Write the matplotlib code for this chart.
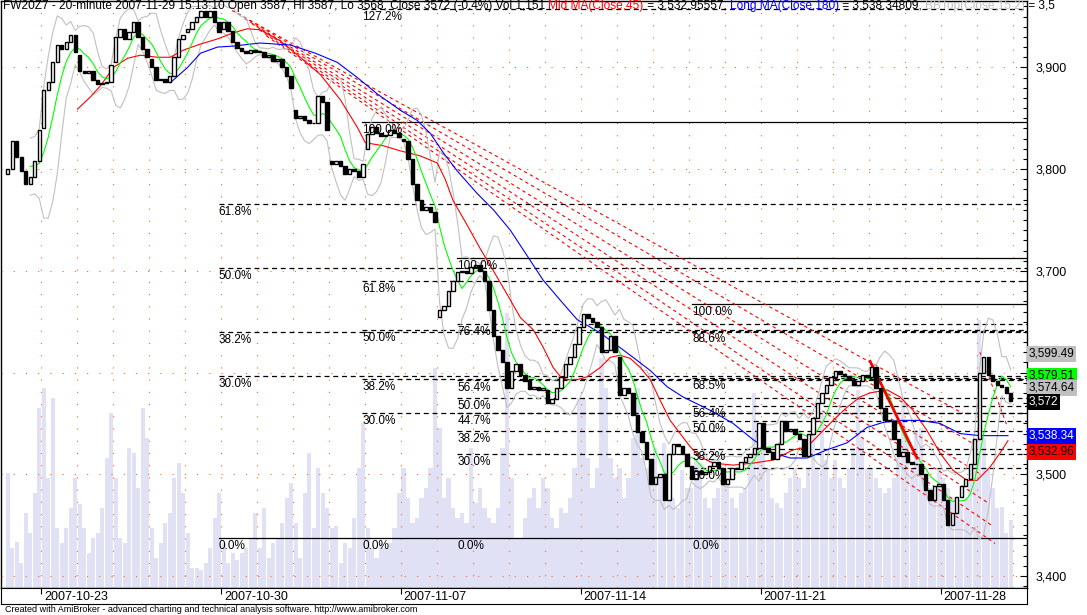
import numpy as np
import pandas as pd
import matplotlib
matplotlib.use("Agg")
import matplotlib.pyplot as plt
from matplotlib.ticker import MultipleLocator, FixedLocator

plt.rcParams['font.family'] = ['Liberation Sans', 'DejaVu Sans']

# ---- FW20Z7 20-minute bars, sampled 8 per session (10-22 .. 11-29) ----
closes = [
    [3800, 3828, 3812, 3798, 3785, 3792, 3808, 3838],
    [3878, 3886, 3905, 3922, 3918, 3925, 3932, 3915],
    [3896, 3895, 3896, 3888, 3884, 3885, 3886, 3902],
    [3930, 3938, 3928, 3935, 3945, 3930, 3918, 3910],
    [3900, 3888, 3889, 3886, 3892, 3910, 3928, 3932],
    [3938, 3945, 3950, 3955, 3950, 3955, 3945, 3935],
    [3945, 3936, 3925, 3919, 3916, 3914, 3917, 3915],
    [3915, 3910, 3912, 3906, 3908, 3900, 3892, 3880],
    [3850, 3852, 3848, 3845, 3845, 3872, 3866, 3838],
    [3805, 3808, 3803, 3795, 3800, 3798, 3792, 3805],
    [3835, 3841, 3836, 3833, 3834, 3838, 3836, 3832],
    [3828, 3810, 3785, 3770, 3760, 3763, 3758, 3748],
    [3662, 3665, 3680, 3690, 3699, 3700, 3698, 3704],
    [3706, 3700, 3690, 3662, 3636, 3622, 3610, 3585],
    [3602, 3608, 3598, 3592, 3584, 3586, 3583, 3585],
    [3570, 3574, 3585, 3596, 3608, 3615, 3628, 3645],
    [3658, 3654, 3650, 3645, 3620, 3622, 3636, 3620],
    [3578, 3585, 3580, 3558, 3542, 3532, 3515, 3490],
    [3497, 3500, 3475, 3520, 3530, 3528, 3520, 3508],
    [3495, 3503, 3500, 3502, 3508, 3512, 3506, 3490],
    [3495, 3506, 3505, 3512, 3517, 3520, 3526, 3550],
    [3526, 3522, 3515, 3530, 3552, 3543, 3545, 3540],
    [3535, 3518, 3540, 3555, 3570, 3580, 3588, 3596],
    [3602, 3599, 3597, 3593, 3588, 3592, 3598, 3596],
    [3605, 3585, 3565, 3553, 3552, 3535, 3518, 3522],
    [3512, 3510, 3510, 3500, 3485, 3475, 3488, 3490],
    [3475, 3450, 3462, 3478, 3488, 3495, 3510, 3535],
    [3600, 3615, 3598, 3592, 3588, 3586, 3580, 3572],
]
day_open = [3795, 3840, 3912, 3905, 3908, 3935, 3938, 3916, 3858, 3808,
            3820, 3830, 3655, 3704, 3585, 3583, 3645, 3615, 3490, 3508,
            3490, 3550, 3540, 3596, 3596, 3522, 3490, 3535]
volume = [
    [115, 40, 46, 25, 75, 55, 95, 180], [200, 110, 190, 60, 45, 60, 80, 110],
    [84, 60, 35, 50, 55, 80, 130, 175], [110, 50, 45, 140, 135, 100, 180, 150],
    [60, 30, 45, 65, 75, 110, 125, 95], [55, 20, 20, 18, 25, 40, 70, 95],
    [45, 25, 35, 28, 35, 40, 50, 75], [40, 80, 30, 45, 50, 65, 90, 105],
    [65, 30, 95, 135, 60, 120, 95, 80], [60, 62, 25, 45, 40, 70, 120, 165],
    [60, 40, 30, 45, 40, 45, 60, 95], [120, 90, 65, 70, 90, 100, 120, 220],
    [160, 90, 110, 80, 70, 75, 65, 140], [85, 100, 80, 70, 65, 80, 140, 275],
    [110, 50, 50, 70, 90, 100, 80, 110], [100, 70, 60, 80, 75, 90, 120, 190],
    [190, 130, 100, 120, 230, 200, 130, 110], [120, 90, 110, 150, 200, 130, 120, 110],
    [140, 110, 145, 100, 90, 80, 118, 100], [100, 130, 125, 90, 80, 90, 100, 110],
    [110, 90, 80, 95, 100, 130, 195, 150], [150, 120, 90, 85, 80, 95, 110, 120],
    [110, 100, 120, 158, 120, 175, 128, 110], [128, 110, 100, 120, 140, 198, 150, 120],
    [120, 110, 100, 95, 100, 110, 130, 188], [150, 120, 158, 160, 110, 100, 90, 120],
    [110, 100, 90, 80, 85, 90, 110, 150], [268, 150, 120, 100, 80, 81, 55, 68],
]

# Mid MA(Close,45) and Long MA(Close,180) (session units)
mid_t = [2.00, 2.36, 2.64, 3.00, 3.39, 3.75, 4.22, 4.58, 4.94, 5.42, 5.89, 6.33, 6.72,
         7.08, 7.64, 8.19, 8.75, 9.31, 9.78, 10.00, 10.50, 10.97, 11.53, 12.00, 12.22,
         12.44, 12.83, 13.19, 13.56, 13.89, 14.31, 14.67, 14.94, 15.22, 15.42, 15.61,
         15.89, 16.17, 16.53, 16.81, 17.08, 17.36, 17.64, 17.92, 18.19, 18.47, 18.75,
         19.03, 19.31, 19.67, 20.22, 20.78, 21.33, 21.89, 22.28, 22.64, 23.00, 23.39,
         23.75, 24.03, 24.50, 24.86, 25.22, 25.61, 25.97, 26.33, 26.72, 27.00, 27.36,
         27.64, 27.86]
mid_ma = [3859, 3871, 3882, 3900, 3909, 3912, 3910, 3910, 3917, 3923, 3928, 3934, 3938,
          3937, 3926, 3910, 3893, 3868, 3841, 3826, 3823, 3818, 3813, 3806, 3790,
          3769, 3745, 3722, 3700, 3680, 3654, 3642, 3625, 3605, 3596, 3593,
          3593, 3596, 3605, 3615, 3617, 3614, 3605, 3593, 3573, 3553, 3540,
          3527, 3517, 3511, 3509, 3511, 3514, 3524, 3527, 3540, 3553, 3566,
          3576, 3580, 3583, 3576, 3563, 3543, 3521, 3504, 3494, 3494, 3507,
          3521, 3533]
long_t = [4.58, 5.06, 5.42, 5.89, 6.33, 7.08, 7.92, 8.61, 9.22, 9.78, 10.33, 10.97,
          11.44, 11.81, 12.17, 12.56, 13.11, 13.56, 14.03, 14.94, 15.42, 15.89, 16.53,
          17.44, 17.92, 18.39, 18.83, 19.58, 20.22, 20.78, 21.33, 21.81, 22.28, 22.83,
          23.39, 23.94, 24.39, 24.86, 25.42, 25.97, 26.53, 27.08, 27.86]
long_ma = [3885, 3900, 3914, 3920, 3921, 3924, 3922, 3914, 3905, 3890, 3874, 3858,
           3848, 3835, 3816, 3798, 3776, 3760, 3740, 3691, 3671, 3652, 3639,
           3615, 3602, 3586, 3576, 3563, 3550, 3534, 3521, 3516, 3516, 3524,
           3531, 3546, 3551, 3553, 3553, 3550, 3540, 3538, 3538]

# Fibonacci retracements: start session, 100% price, 0% price, levels
fib_start = [5.92, 9.92, 12.56, 19.08]
fib_high = [3968.0, 3846.0, 3712.4, 3667.2]
fib_low = 3437.3
fib_levels = [[61.8, 50.0, 38.2, 30.0],
              [127.2, 61.8, 50.0, 38.2, 30.0],
              [76.4, 56.4, 50.0, 44.7, 38.2, 30.0],
              [88.6, 68.5, 56.4, 50.0, 38.2, 30.0]]

# red trend lines: start (session, price) -> end (session, price)
fan_t0 = [6.30, 6.45, 6.65, 6.85, 7.05, 7.25]
fan_p0 = [3956, 3953, 3948, 3943, 3937, 3931]
fan_t1 = [26.60, 26.90, 27.10, 27.30, 27.40, 27.50]
fan_p1 = [3560, 3530, 3500, 3472, 3450, 3432]
thick_line = ([24.03, 25.33], [3611, 3516])
short_line = ([27.08, 27.83], [3620, 3548])

week_days = [1, 6, 11, 16, 21, 26]
week_labels = ['2007-10-23', '2007-10-30', '2007-11-07', '2007-11-14',
               '2007-11-21', '2007-11-28']
price_ticks = [3400, 3500, 3600, 3700, 3800, 3900]

value_labels = ['3,599.49', '3,579.51', '3,574.64', '3,572', '3,538.34', '3,532.96']
value_bg = ['#c0c0c0', '#00ff00', '#c0c0c0', 'black', '#0000ff', '#ff0000']
value_fg = ['black', 'black', 'black', 'white', 'white', 'black']
value_ypx = [354, 376, 388, 402, 436, 452]

title_parts = [
    ("FW20Z7 - 20-minute 2007-11-29 15:13:10 Open 3587, Hi 3587, Lo 3568, "
     "Close 3572 (-0.4%) Vol 1,151 ", 'black'),
    ("Mid MA(Close,45)", '#ff0000'),
    (" = 3,532.95557, ", 'black'),
    ("Long MA(Close,180)", '#0000ff'),
    (" = 3,538.34809, ", 'black'),
    ("BBTop(Close,15,2)", '#c0c0c0'),
    (" = 3,5", 'black'),
]

# ---- layout ----
W, H = 1087, 615
fig = plt.figure(figsize=(W / 100, H / 100), dpi=100)
fig.patch.set_facecolor('white')
PR, PB, DB = 1027, 588, 604
ax = fig.add_axes([0.5 / W, 1 - PB / H, (PR - 0.5) / W, (PB - 0.5) / H])
XMIN, XMAX = -5 / 36, 1022 / 36
YMIN, YMAX = 3388.2, 3965.8
ax.set_xlim(XMIN, XMAX)
ax.set_ylim(YMIN, YMAX)
px = (YMAX - YMIN) / PB   # price per pixel

bpd = 8
t = np.array([d + (i + 0.5) / bpd for d in range(len(closes)) for i in range(bpd)])
c = np.array([v for day in closes for v in day], float)
o = np.r_[np.nan, c[:-1]]
o[::bpd] = day_open
vol = np.array([v for day in volume for v in day], float)

# volume (overlay on price pane)
ax.bar(t, vol * px, bottom=YMIN, width=1 / bpd * 0.92, color='#e1e1f6',
       linewidth=0, zorder=1)

# dotted grid
dot = dict(color='#ff6a1a', lw=0.8, dashes=(1, 10), zorder=2)
for d in range(1, 29):
    ax.axvline(d, **dot)
for p in price_ticks:
    ax.axhline(p, **dot)

# fibonacci lines
for s, hi, lev in zip(fib_start, fib_high, fib_levels):
    rng = hi - fib_low
    if hi < YMAX:
        ax.plot([s, XMAX], [hi, hi], color='black', lw=0.9, zorder=3)
        ax.text(s, hi - 2 * px, '100.0%', fontsize=8.5, va='top', ha='left', zorder=6)
    for lv in lev:
        y = fib_low + rng * lv / 100
        ax.plot([s, XMAX], [y, y], color='black', lw=0.9, dashes=(4, 3), zorder=3)
        ax.text(s, y - 2 * px, f'{lv:.1f}%', fontsize=8.5, va='top', ha='left', zorder=6)
    ax.text(s, fib_low - 2 * px, '0.0%', fontsize=8.5, va='top', ha='left', zorder=6)
ax.plot([min(fib_start), XMAX], [fib_low, fib_low], color='black', lw=0.9, zorder=3)

# red trend lines
for a0, b0, a1, b1 in zip(fan_t0, fan_p0, fan_t1, fan_p1):
    ax.plot([a0, a1], [b0, b1], color='#ff0000', lw=0.8, dashes=(3, 3), zorder=3)
ax.plot(*short_line, color='#ff0000', lw=0.8, dashes=(3, 3), zorder=3)
ax.plot(*thick_line, color='#ff0000', lw=2.0, zorder=5)

# indicators
cs = pd.Series(c)
short_ma = cs.rolling(6).mean()
sd = cs.rolling(6).std(ddof=0)
ax.plot(t, short_ma + 2 * sd, color='#c0c0c0', lw=0.8, zorder=4)
ax.plot(t, short_ma - 2 * sd, color='#c0c0c0', lw=0.8, zorder=4)
ax.plot(mid_t, mid_ma, color='#ff0000', lw=0.8, zorder=4)
ax.plot(long_t, long_ma, color='#0000ff', lw=0.8, zorder=4)
ax.plot(t, short_ma, color='#00ff00', lw=0.8, zorder=4)

# candles
up = c >= o
w = 0.095
ax.bar(t[up], c[up] - o[up], bottom=o[up], width=w, facecolor='white',
       edgecolor='black', linewidth=1.0, zorder=5)
ax.bar(t[~up], c[~up] - o[~up], bottom=o[~up], width=w, facecolor='black',
       edgecolor='black', linewidth=1.0, zorder=5)

# axes styling
ax.set_xticks([])
ax.yaxis.tick_right()
ax.yaxis.set_major_locator(FixedLocator(price_ticks))
ax.yaxis.set_minor_locator(MultipleLocator(10))
ax.set_yticklabels(['' if p == 3600 else f'{p:,}' for p in price_ticks])
ax.tick_params(axis='y', which='major', direction='in', length=5, width=0.8,
               pad=6, labelsize=9)
ax.tick_params(axis='y', which='minor', direction='in', length=3, width=0.8)
for sp in ax.spines.values():
    sp.set_linewidth(1.0)

# value labels on the right
for txt, bg, fg, yp in zip(value_labels, value_bg, value_fg, value_ypx):
    fig.text(1029 / W, 1 - yp / H, txt, fontsize=8.5, color=fg, va='center',
             ha='left', bbox=dict(facecolor=bg, edgecolor='none', pad=1.2))

# title (colour segments placed one after another)
fig.canvas.draw()
r = fig.canvas.get_renderer()
xp = 3
for s, col in title_parts:
    tt = fig.text(xp / W, 1 - 6 / H, s, fontsize=8.6, color=col, va='center', ha='left')
    xp += tt.get_window_extent(renderer=r).width

# date strip
axd = fig.add_axes([0.5 / W, 1 - DB / H, (PR - 0.5) / W, (DB - PB) / H])
axd.set_xlim(XMIN, XMAX)
axd.set_ylim(0, 1)
axd.set_yticks([])
axd.set_xticks(week_days)
axd.tick_params(axis='x', top=True, bottom=False, labelbottom=False,
                direction='in', length=4, width=0.8)
for d, lab in zip(week_days, week_labels):
    axd.text(d + 2.5 / 36, 0.45, lab, fontsize=9, va='center', ha='left')

fig.text(5 / W, 1 - 610 / H,
         'Created with AmiBroker - advanced charting and technical analysis '
         'software. http://www.amibroker.com', fontsize=6.5, va='center', ha='left')

fig.savefig('out.png', dpi=100)
